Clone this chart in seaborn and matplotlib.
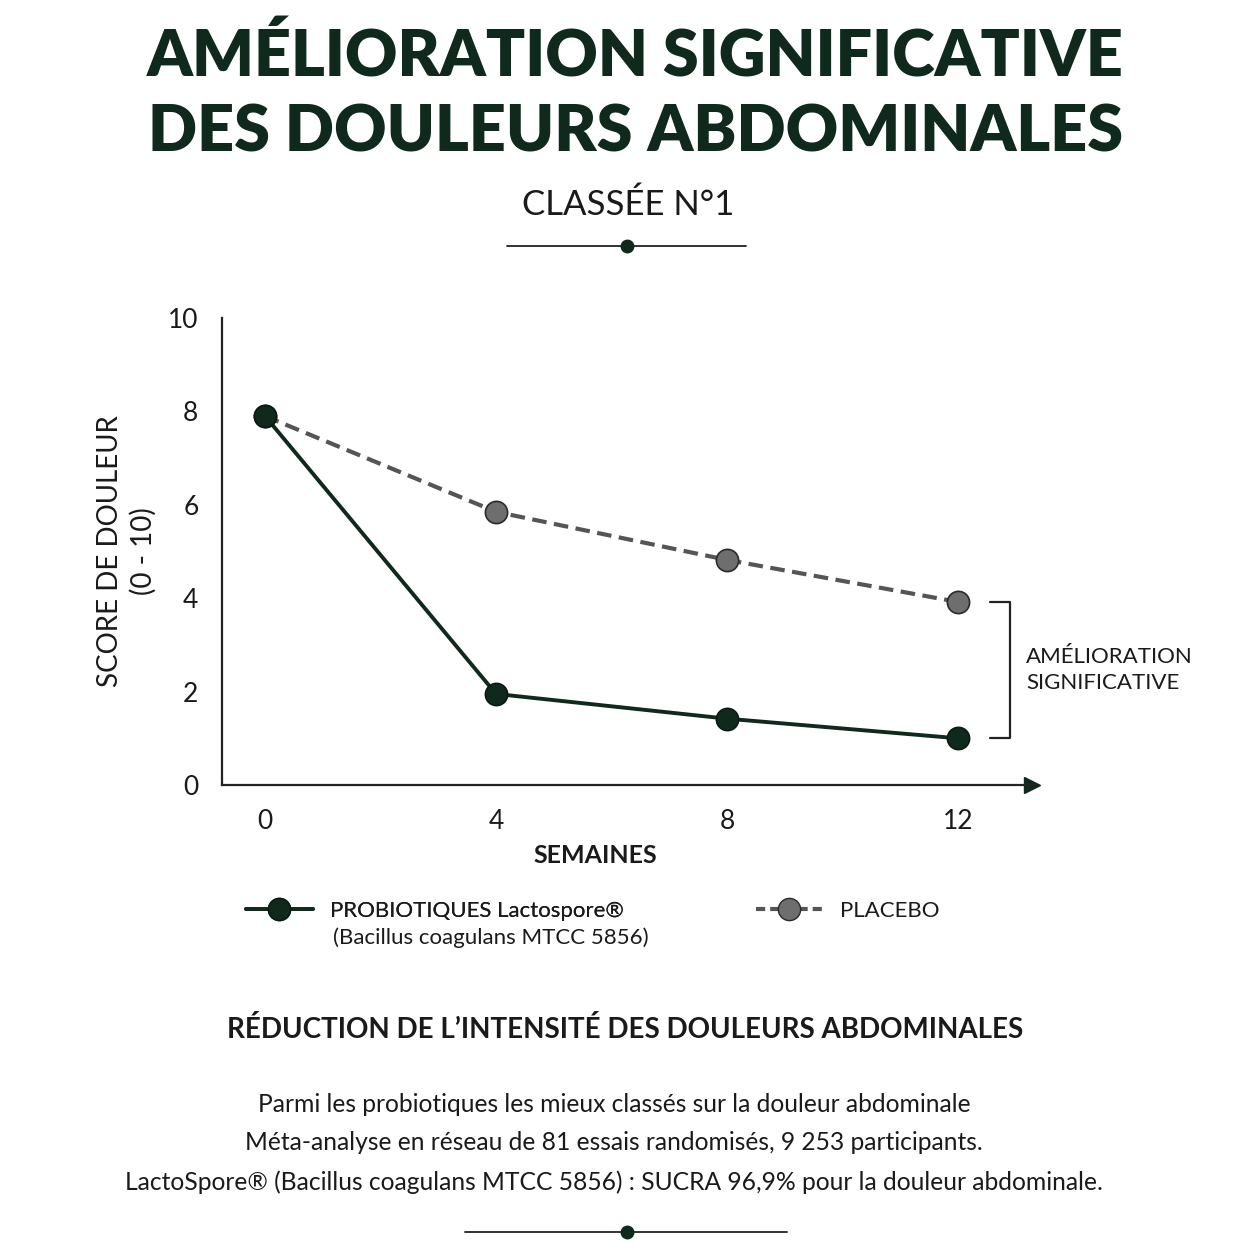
import matplotlib
matplotlib.use('Agg')
import matplotlib.pyplot as plt
import seaborn as sns
from matplotlib.lines import Line2D

# data
weeks = [0, 4, 8, 12]
probiotic = [7.9, 1.95, 1.42, 1.0]
placebo = [7.9, 5.85, 4.82, 3.92]
yticks = [0, 2, 4, 6, 8, 10]

green = '#0f2a1c'
grey_line = '#555555'
grey_marker = '#6e6e6e'
ink = '#1a1a1a'

sns.set_theme(style='white')
plt.rcParams['font.family'] = ['Lato', 'DejaVu Sans']

W = 1254
fig = plt.figure(figsize=(12.54, 12.54), dpi=100)
fig.patch.set_facecolor('white')

def fx(px):
    return px / W

def fy(py):
    return 1 - py / W

ax = fig.add_axes([fx(222), fy(785), fx(1032 - 222), (785 - 318) / W])

sns.lineplot(x=weeks, y=placebo, ax=ax, color=grey_line, lw=3.0,
             linestyle=(0, (3.5, 1.8)), marker='o', markersize=16,
             markerfacecolor=grey_marker, markeredgecolor='#2a2a2a',
             markeredgewidth=1.2, zorder=3)
sns.lineplot(x=weeks, y=probiotic, ax=ax, color=green, lw=2.8,
             marker='o', markersize=16, markerfacecolor=green,
             markeredgecolor='#0a1a12', markeredgewidth=1.2, zorder=4)

ax.set_xlim(-0.745, 13.28)
ax.set_ylim(0, 10)
ax.set_xticks(weeks)
ax.set_yticks(yticks)
ax.tick_params(axis='both', labelsize=19, colors=ink, length=9, width=1.5,
               direction='out', pad=8)
for s in ['top', 'right']:
    ax.spines[s].set_visible(False)
for s in ['left', 'bottom']:
    ax.spines[s].set_color('#222222')
    ax.spines[s].set_linewidth(1.6)
ax.plot(1, 0, marker='>', markersize=11, color=green, transform=ax.transAxes,
        clip_on=False)

ax.set_ylabel('SCORE DE DOULEUR\n(0 - 10)', fontsize=20, color=ink,
              linespacing=1.3, labelpad=8)
ax.set_xlabel('SEMAINES', fontsize=18, fontweight='bold', color=ink)
ax.xaxis.set_label_coords((595 - 222) / 810, -0.152)
ax.xaxis.label.set_va('center')

# bracket between final values
bx0, bx1 = 12.55, 12.9
ax.plot([bx0, bx1, bx1, bx0], [placebo[-1], placebo[-1], probiotic[-1], probiotic[-1]],
        color='#222222', lw=1.6, clip_on=False)
ax.text(13.18, (placebo[-1] + probiotic[-1]) / 2, 'AMÉLIORATION\nSIGNIFICATIVE',
        fontsize=16, color=ink, va='center', ha='left', linespacing=1.35)

# legend
h1 = Line2D([], [], color=green, lw=2.8, marker='o', markersize=16,
            markerfacecolor=green, markeredgecolor='#0a1a12')
h2 = Line2D([], [], color=grey_line, lw=3.0, linestyle=(0, (2.2, 1.2)), marker='o',
            markersize=16, markerfacecolor=grey_marker, markeredgecolor='#2a2a2a')
leg1 = fig.legend([h1], ['PROBIOTIQUES Lactospore®'], loc='center left',
                  bbox_to_anchor=(fx(246), fy(911)), frameon=False, fontsize=16,
                  handlelength=3.0, handletextpad=0.8, borderpad=0, borderaxespad=0)
for t in leg1.get_texts():
    t.set_color(ink)
fig.add_artist(leg1)
leg2 = fig.legend([h2], ['PLACEBO'], loc='center left',
                  bbox_to_anchor=(fx(756), fy(911)), frameon=False, fontsize=16,
                  handlelength=3.0, handletextpad=0.8, borderpad=0, borderaxespad=0)
for t in leg2.get_texts():
    t.set_color(ink)
fig.text(fx(333), fy(938), '(Bacillus coagulans MTCC 5856)', fontsize=16,
         color=ink, va='center', ha='left')

# title block
fig.text(fx(635), fy(57), 'AMÉLIORATION SIGNIFICATIVE', fontsize=46.5,
         fontweight='heavy', color=green, ha='center', va='center')
fig.text(fx(636), fy(133), 'DES DOULEURS ABDOMINALES', fontsize=46.5,
         fontweight='heavy', color=green, ha='center', va='center')
fig.text(fx(628), fy(205), 'CLASSÉE N°1', fontsize=25, color=ink,
         ha='center', va='center')

def divider(y, x0, x1):
    fig.add_artist(Line2D([fx(x0), fx(x1)], [fy(y), fy(y)], color='#222222', lw=1.3))
    fig.add_artist(Line2D([fx(627)], [fy(y)], marker='o', markersize=9,
                          color=green, lw=0))

divider(246, 507, 746)

# bottom text
fig.text(fx(625), fy(1030), 'RÉDUCTION DE L’INTENSITÉ DES DOULEURS ABDOMINALES',
         fontsize=20, fontweight='bold', color=ink, ha='center', va='center')
body = ['Parmi les probiotiques les mieux classés sur la douleur abdominale',
        'Méta-analyse en réseau de 81 essais randomisés, 9 253 participants.',
        'LactoSpore® (Bacillus coagulans MTCC 5856) : SUCRA 96,9% pour la douleur abdominale.']
for line, y in zip(body, [1105, 1143, 1182]):
    fig.text(fx(614), fy(y), line, fontsize=17.7, color=ink, ha='center', va='center')

divider(1232, 465, 787)

fig.savefig('out.png', dpi=100, facecolor='white')
